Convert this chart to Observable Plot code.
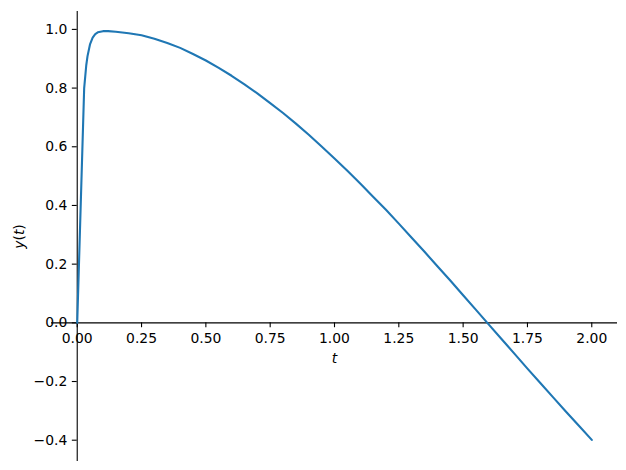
<!DOCTYPE html>
<html>
<head>
<meta charset="utf-8">
<script src="https://cdn.jsdelivr.net/npm/d3@7"></script>
<script src="https://cdn.jsdelivr.net/npm/@observablehq/plot@0.6"></script>
<style>
  html, body { margin: 0; padding: 0; background: #fff; }
  #chart svg { display: block; }
</style>
</head>
<body>
<div id="chart"></div>
<script>
// Values
const tValues = [0, 0.027, 0.035, 0.04, 0.05, 0.06, 0.07, 0.08, 0.10, 0.12, 0.15, 0.20,
  0.25, 0.30, 0.35, 0.40, 0.45, 0.50, 0.55, 0.60, 0.65, 0.70, 0.75, 0.80, 0.85, 0.90, 0.95,
  1.00, 1.05, 1.10, 1.15, 1.20, 1.25, 1.30, 1.35, 1.40, 1.45, 1.50, 1.55, 1.60, 1.65, 1.70,
  1.75, 1.80, 1.85, 1.90, 1.95, 2.00];
const yValues = [0, 0.800, 0.877, 0.909, 0.950, 0.972, 0.984, 0.990, 0.994, 0.994, 0.992, 0.987,
  0.980, 0.968, 0.954, 0.937, 0.916, 0.894, 0.869, 0.842, 0.813, 0.782, 0.749, 0.715, 0.679, 0.641, 0.601,
  0.560, 0.518, 0.475, 0.430, 0.385, 0.338, 0.290, 0.242, 0.193, 0.144, 0.094, 0.044, -0.006, -0.056, -0.106,
  -0.156, -0.205, -0.254, -0.303, -0.351, -0.399];

const xTicks = [0, 0.25, 0.5, 0.75, 1.0, 1.25, 1.5, 1.75, 2.0];
const xTickLabels = ["0.00", "0.25", "0.50", "0.75", "1.00", "1.25", "1.50", "1.75", "2.00"];
const yTicks = [-0.4, -0.2, 0, 0.2, 0.4, 0.6, 0.8, 1.0];
const yTickLabels = ["\u22120.4", "\u22120.2", "0.0", "0.2", "0.4", "0.6", "0.8", "1.0"];
const xLabel = "t";
const yLabel = "y(t)";

const data = tValues.map((t, i) => ({t, y: yValues[i]}));
const xTickData = xTicks.map((v, i) => ({v, label: xTickLabels[i]}));
const yTickData = yTicks.map((v, i) => ({v, label: yTickLabels[i]}));

const font = "DejaVu Sans, sans-serif";

const chart = Plot.plot({
  width: 626,
  height: 470,
  marginLeft: 51,
  marginRight: 9,
  marginTop: 11,
  marginBottom: 9,
  style: {fontFamily: font, fontSize: "13.9px", background: "#fff", color: "black"},
  x: {domain: [-0.1, 2.1], axis: null},
  y: {domain: [-0.4726, 1.061], axis: null},
  marks: [
    // spines through zero
    Plot.ruleY([0], {stroke: "black", strokeWidth: 1.1}),
    Plot.ruleX([0], {stroke: "black", strokeWidth: 1.1}),
    // ticks
    Plot.ruleX(xTickData, {x: "v", y1: 0, y2: 0, insetBottom: -4.9, stroke: "black", strokeWidth: 1.1}),
    Plot.ruleY(yTickData, {y: "v", x1: 0, x2: 0, insetLeft: -4.9, stroke: "black", strokeWidth: 1.1}),
    // tick labels
    Plot.text(xTickData, {x: "v", y: 0, text: "label", dy: 16, fill: "black", fontSize: 13.9}),
    Plot.text(yTickData, {x: 0, y: "v", text: "label", textAnchor: "end", dx: -10, fill: "black", fontSize: 13.9}),
    // curve
    Plot.line(data, {x: "t", y: "y", stroke: "#1f77b4", strokeWidth: 2.1}),
    // axis labels
    Plot.text([xLabel], {x: 1.0, y: 0, dy: 36, text: d => d, fill: "black", fontStyle: "italic", fontSize: 13.9}),
    Plot.text([yLabel], {frameAnchor: "left", textAnchor: "middle", dx: -32, rotate: -90, text: d => d, fill: "black", fontSize: 13.9})
  ]
});

// mathtext-like styling for y(t): italic letters, upright parentheses
chart.querySelectorAll("text").forEach(el => {
  if (el.textContent === yLabel) {
    el.textContent = "";
    const ns = "http://www.w3.org/2000/svg";
    const parts = [["y", true], ["(", false], ["t", true], [")", false]];
    for (const [s, it] of parts) {
      const ts = document.createElementNS(ns, "tspan");
      ts.textContent = s;
      if (it) ts.setAttribute("font-style", "italic");
      el.appendChild(ts);
    }
  }
});

document.getElementById("chart").appendChild(chart);
</script>
</body>
</html>
